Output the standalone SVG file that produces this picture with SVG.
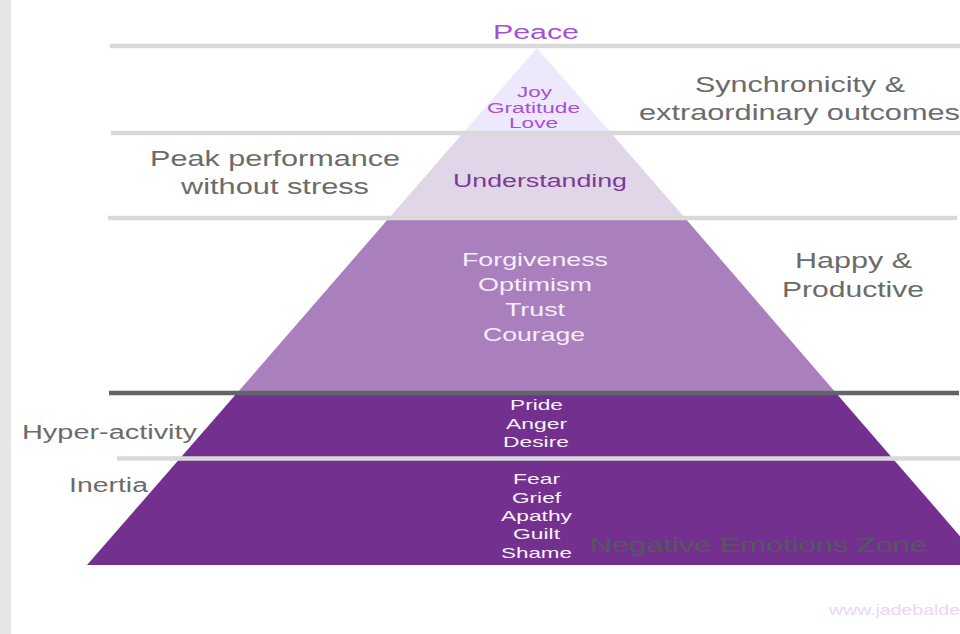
<svg xmlns="http://www.w3.org/2000/svg" width="960" height="634" viewBox="0 0 960 634">
<style>
  text { font-family: "Liberation Sans", Arial, sans-serif; }
  .gray { fill: #6b6b6b; font-size: 21.5px; }
  .side { fill: #6b6b6b; font-size: 19.5px; }
  .top { fill: #a651d4; font-size: 14px; }
  .mid { fill: #f6eefa; font-size: 18.5px; }
  .low { fill: #f7f2fa; font-size: 15px; }
  .div { stroke: #d9d9d9; stroke-width: 4.5; fill: none; }
  .divdark { stroke: #616468; stroke-width: 4.5; fill: none; }
</style>
<rect x="0" y="0" width="960" height="634" fill="#ffffff"/>
<rect x="0" y="0" width="11" height="634" fill="#e6e6e6"/>

<g id="level-love">
  <polygon points="537,48 611,133 463,133" fill="#ede8fb"/>
  <text class="top" x="517" y="97" textLength="35" lengthAdjust="spacingAndGlyphs">Joy</text>
  <text class="top" x="487" y="112.5" textLength="93" lengthAdjust="spacingAndGlyphs">Gratitude</text>
  <text class="top" x="509" y="127.5" textLength="49" lengthAdjust="spacingAndGlyphs">Love</text>
</g>
<g id="level-understanding">
  <polygon points="463,133 611,133 685,218 389,218" fill="#e1d5e8"/>
  <text x="453" y="187" font-size="17.5" fill="#7a3a96" textLength="174" lengthAdjust="spacingAndGlyphs">Understanding</text>
</g>
<g id="level-courage">
  <polygon points="389,218 685,218 836,393 237,393" fill="#a980bd"/>
  <text class="mid" x="462" y="266" textLength="146" lengthAdjust="spacingAndGlyphs">Forgiveness</text>
  <text class="mid" x="478" y="291" textLength="114" lengthAdjust="spacingAndGlyphs">Optimism</text>
  <text class="mid" x="505" y="316" textLength="60" lengthAdjust="spacingAndGlyphs">Trust</text>
  <text class="mid" x="483" y="341" textLength="102" lengthAdjust="spacingAndGlyphs">Courage</text>
</g>
<g id="level-negative">
  <polygon points="237,393 836,393 985,565 87,565" fill="#74308e"/>
  <text class="low" x="510" y="410" textLength="53" lengthAdjust="spacingAndGlyphs">Pride</text>
  <text class="low" x="506" y="429" textLength="61" lengthAdjust="spacingAndGlyphs">Anger</text>
  <text class="low" x="503" y="447" textLength="66" lengthAdjust="spacingAndGlyphs">Desire</text>
  <text class="low" x="513" y="484" textLength="47" lengthAdjust="spacingAndGlyphs">Fear</text>
  <text class="low" x="512" y="503" textLength="49" lengthAdjust="spacingAndGlyphs">Grief</text>
  <text class="low" x="501" y="521" textLength="71" lengthAdjust="spacingAndGlyphs">Apathy</text>
  <text class="low" x="513" y="539" textLength="47" lengthAdjust="spacingAndGlyphs">Guilt</text>
  <text class="low" x="501" y="558" textLength="71" lengthAdjust="spacingAndGlyphs">Shame</text>
  <text x="590" y="552" font-size="21" fill="#535a5c" textLength="337" lengthAdjust="spacingAndGlyphs">Negative Emotions Zone</text>
</g>

<g id="dividers">
  <line class="div" x1="110" y1="46" x2="960" y2="46"/>
  <line class="div" x1="111" y1="133" x2="960" y2="133"/>
  <line class="div" x1="108" y1="218" x2="957" y2="218"/>
  <line class="divdark" x1="109" y1="393" x2="959" y2="393"/>
  <line class="div" x1="117" y1="458.5" x2="960" y2="458.5"/>
</g>

<g id="label-peace">
  <text x="493" y="38.5" font-size="20" fill="#a651d4" textLength="86" lengthAdjust="spacingAndGlyphs">Peace</text>
</g>
<g id="label-synchronicity">
  <text class="gray" x="695" y="92" textLength="210" lengthAdjust="spacingAndGlyphs">Synchronicity &amp;</text>
  <text class="gray" x="639" y="120" textLength="321" lengthAdjust="spacingAndGlyphs">extraordinary outcomes</text>
</g>
<g id="label-peak">
  <text class="gray" x="150" y="166" textLength="250" lengthAdjust="spacingAndGlyphs">Peak performance</text>
  <text class="gray" x="181" y="194" textLength="188" lengthAdjust="spacingAndGlyphs">without stress</text>
</g>
<g id="label-happy">
  <text class="gray" x="795" y="268" textLength="117" lengthAdjust="spacingAndGlyphs">Happy &amp;</text>
  <text class="gray" x="782" y="297" textLength="142" lengthAdjust="spacingAndGlyphs">Productive</text>
</g>
<g id="label-hyper">
  <text class="side" x="22" y="439" textLength="175" lengthAdjust="spacingAndGlyphs">Hyper-activity</text>
</g>
<g id="label-inertia">
  <text class="side" x="69" y="492" textLength="79" lengthAdjust="spacingAndGlyphs">Inertia</text>
</g>
<g id="watermark">
  <text x="829" y="615" font-size="14" fill="#ead6f8" textLength="131" lengthAdjust="spacingAndGlyphs">www.jadebalde</text>
</g>
</svg>
